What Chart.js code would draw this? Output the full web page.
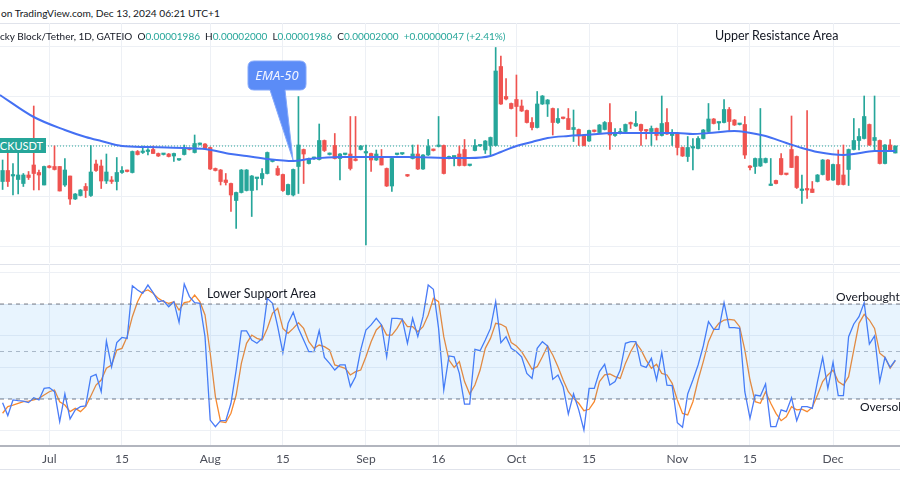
<!DOCTYPE html>
<html>
<head>
<meta charset="utf-8">
<script src="https://cdn.jsdelivr.net/npm/chart.js@4.4.1/dist/chart.umd.min.js"></script>
<style>
  body { margin: 0; width: 900px; height: 500px; overflow: hidden; position: relative; background: #fff;
         font-family: Lato, "Noto Sans", sans-serif; color: #131722; }
  .t { position: absolute; white-space: nowrap; font-size: 10px; line-height: 14px; }
  .g { color: #26a69a; }
  .pane { position: absolute; left: 0; }
  .hl { position: absolute; left: 0; width: 900px; height: 0; border-top: 1px solid #e0e3eb; }
</style>
</head>
<body>

<div class="t" style="left:1px;top:6px;font-size:10.2px"><span style="position:absolute;right:100%">Published&nbsp;</span>on TradingView.com, Dec 13, 2024 06:21 UTC+1</div>
<div class="hl" style="top:23px"></div>

<div class="pane" style="top:23px"><canvas id="price" width="900" height="240"></canvas></div>
<div class="hl" style="top:264px"></div>
<div class="pane" style="top:264px"><canvas id="stoch" width="900" height="211"></canvas></div>
<div class="hl" style="top:469px"></div>

<div class="t" style="left:0;top:29px"><span style="position:absolute;right:100%">Lu</span>cky Block/Tether, 1D, GATEIO&nbsp; O<span class="g">0.00001986</span>&nbsp; H<span class="g">0.00002000</span>&nbsp; L<span class="g">0.00001986</span>&nbsp; C<span class="g">0.00002000</span>&nbsp; <span class="g">+0.00000047 (+2.41%)</span></div>
<div class="t" style="left:715px;top:29px;font-size:12.5px">Upper Resistance Area</div>

<div style="position:absolute;left:0;top:138px;width:46px;height:15px;overflow:hidden;background:#26a69a;color:#fff;
            font-size:11px;line-height:15px;display:flex;justify-content:flex-end;padding-right:3px;box-sizing:border-box">
  <span style="white-space:nowrap">BLOCKUSDT</span></div>

<svg style="position:absolute;left:0;top:0" width="900" height="500">
  <path d="M254 61 H300 Q306 61 306 67 V84 Q306 90 300 90 H285 L293 160 L270 90 H254 Q248 90 248 84 V67 Q248 61 254 61 Z"
        fill="#5b8cf7" stroke="#84a8fb" stroke-width="1"/>
  <text x="277" y="80" text-anchor="middle" font-family="Noto Sans" font-style="italic" font-size="13" fill="#f2f5ff">EMA-50</text>
</svg>

<div class="t" style="left:207px;top:287px;font-size:12.5px">Lower Support Area</div>
<div class="t" style="left:836px;top:290px;font-size:12px">Overbought</div>
<div class="t" style="left:860px;top:400px;font-size:12px">Oversold</div>

<script>
// daily candles, index 0 = Jun 22 2024 ... 172 = Dec 13 2024, prices in 1e-8 USDT
const open = [
  1929,1951,1940,1933,1925,1942,1962,1947,1922,1960, 1959,1959,1922,1940,1894,1901,1919,1901,1964,1960,
  1930,1932,1929,1947,1951,1947,1989,1987,1989,1993, 1985,1983,1984,1980,1972,1983,1995,1987,2003,2004,
  1997,1955,1952,1932,1925,1891,1907,1911,1911,1935, 1935,1945,1969,1955,1943,1903,1902,1959,1993,1965,
  1975,1973,2011,1983,2001,1975,1983,1984,1973,1993, 1986,1985,1972,1979,1955,1920,1983,1984,1942,1975,
  1984,1954,1982,1993,1999,2001,1975,1978,1984,1993, 1961,1991,2000,1992,2001,2001,2159,2099,2085,2093,
  2080,2071,2047,2037,2084,2084,2075,2047,2057,2055, 2033,2033,2022,2010,2031,2027,2033,2047,2021,2025,
  2029,2047,2040,2043,2032,2029,2035,2021,2047,2021, 2025,1997,1979,1996,1995,2015,2029,2054,2046,2047,
  2073,2052,2043,2043,1960,1959,1960,1967,1921,1931, 1975,1944,1993,1979,1911,1914,1914,1929,1943,1972,
  1932,1963,1942,1953,1993,2011,2015,2043,2011,2011, 1965,2002,1986
];
const high = [
  1972,1989,1965,1987,1945,1949,2080,1952,1960,1961, 2000,1959,1975,1940,1905,1913,1925,2001,1972,1972,
  1984,1939,1977,1959,1952,1990,1991,2000,1995,2000, 1986,1985,1985,1986,1974,2002,1996,2022,2006,2005,
  1998,1956,1953,1945,1926,1908,1953,1953,1941,1937, 1955,1988,1973,1960,1944,1924,1954,2099,1994,1976,
  1978,2044,2012,1986,2025,1985,1985,2059,2059,2001, 2002,1986,1992,1993,1956,1976,1984,1985,1943,2002,
  2002,1983,2013,1994,2059,2002,1980,1980,2000,2013, 1962,2013,2002,2011,2018,2197,2180,2135,2086,2142,
  2092,2072,2057,2109,2101,2093,2076,2075,2058,2075, 2072,2034,2023,2032,2032,2043,2049,2085,2035,2035,
  2044,2048,2069,2044,2033,2040,2036,2100,2075,2033, 2026,1998,2019,2015,2019,2033,2085,2055,2048,2093,
  2077,2053,2045,2059,1961,1976,2075,1976,1975,1932, 1985,1945,2060,1980,1942,2071,1929,1943,1973,1973,
  1964,1992,2002,1994,2055,2035,2100,2044,2100,2012, 2003,2013,2000
];
const low = [
  1913,1919,1902,1904,1919,1933,1912,1912,1922,1956, 1952,1910,1919,1883,1893,1900,1897,1899,1949,1915,
  1925,1925,1912,1945,1948,1946,1982,1985,1982,1985, 1979,1982,1978,1969,1971,1982,1992,1986,2002,1994,
  1953,1950,1922,1922,1869,1835,1906,1910,1859,1912, 1922,1944,1968,1941,1909,1902,1900,1905,1925,1964,
  1973,1972,1989,1982,1974,1932,1982,1952,1970,1992, 1802,1949,1971,1962,1919,1909,1982,1983,1939,1974,
  1953,1953,1981,1990,1998,1944,1974,1960,1960,1960, 1960,1990,1999,1985,1982,2000,2083,2092,2074,2019,
  2069,2046,2032,2036,2083,2059,2022,2045,2054,2033, 2009,2001,2000,2009,2028,2026,2032,1993,2019,2024,
  2028,2035,2039,2001,2014,2001,2012,2020,2023,2001, 1982,1979,1969,1952,1994,2014,2028,2044,2032,2046,
  2029,2041,2042,1975,1952,1945,1959,1966,1921,1924, 1942,1942,1957,1915,1885,1895,1907,1928,1942,1931,
  1931,1922,1922,1921,1992,1992,2014,2001,1992,1964, 1964,1989,1986
];
const close = [
  1951,1929,1942,1942,1942,1937,1945,1942,1959,1957, 1953,1910,1952,1894,1904,1912,1911,1948,1951,1930,
  1948,1929,1947,1951,1949,1989,1983,1990,1992,1985, 1980,1984,1979,1985,1973,1995,1993,2005,2005,1995,
  1954,1951,1929,1927,1902,1907,1952,1952,1940,1937, 1945,1987,1972,1942,1911,1923,1953,2002,1984,1975,
  1977,2011,1991,1985,1975,1984,1984,1955,1971,2000, 1989,1972,1984,1962,1920,1975,1984,1985,1940,1984,
  1954,1982,1999,1991,2001,1945,1979,1979,1961,1961, 1962,2001,2001,2010,2017,2150,2084,2094,2075,2079,
  2070,2047,2037,2084,2100,2092,2047,2055,2055,2033, 2037,2020,2001,2031,2029,2042,2047,2022,2024,2029,
  2043,2044,2045,2031,2030,2035,2021,2045,2024,2022, 1997,1980,1997,1998,2015,2032,2054,2045,2047,2073,
  2049,2042,2044,1982,1957,1975,1975,1975,1924,1925, 1943,1943,1957,1917,1912,1912,1907,1942,1972,1932,
  1963,1923,1923,1993,2011,2019,2059,2002,2017,1965, 2002,1990,2000
];

// EMA-50 at these candle indexes
const emaAt  = [-0.5, 6, 12, 16, 19, 23, 28, 35, 39, 44, 47, 51, 56, 59, 65, 72, 78, 87, 90, 94,
                96, 99, 102, 105, 109, 112, 118, 125, 130, 133, 136, 141, 143, 147, 151, 154, 157, 162, 164, 168, 172];
const emaVal = [2102, 2058, 2032, 2018, 2010, 2000, 1998, 1996, 1994, 1984, 1980, 1974, 1970, 1974, 1978, 1978, 1978, 1976, 1976, 1980,
                1988, 2000, 2008, 2016, 2020, 2022, 2026, 2026, 2026, 2024, 2026, 2030, 2028, 2020, 2006, 1996, 1988, 1982, 1984, 1990, 1990];

// stochastic %K and %D, one value per candle
const stochK = [
  17.7,9.5,19.4,19.0,18.7,17.7,20.8,19.4,26.7,27.2, 24.6,5.7,23.2,7.4,13.1,15.2,15.6,34.1,35.6,24.6,
  56.6,40.4,55.6,58.9,58.3,91.6,88.9,86.8,92.0,87.2, 81.5,82.1,78.3,81.5,68.4,92.7,84.7,80.9,80.4,59.4,
  6.7,2.5,6.3,6.3,17.3,38.3,63,63,57.3,55.2, 58.3,83.6,80.4,65.7,49.3,67.8,74.8,64.6,57.3,49.9,
  49.9,63.2,46.3,42.5,38.3,41.5,41.5,27.8,34.1,51, 63.6,66.8,71,66.8,46.7,71,71,70.5,55.2,71,
  59.4,72,92,89.3,64.6,25.7,47.2,46.7,36.2,16.8, 16.8,51.4,50.5,57.3,64.6,81.5,55.6,59.4,52,49.9,
  46.7,36.2,33,52,56.2,53.5,32.4,35.2,27.8,10.5, 23.2,13.1,0.4,26.7,26.7,37.3,41.9,28.8,31,38.3,
  55.2,56.2,56.2,41.1,40,45.7,32,49.3,28.8,28.4, 5.0,2.1,23.2,32,41.5,53.5,68.9,64,64,80.9,
  65.1,65.1,64.6,24.6,7.8,22.5,21.9,29.5,2.5,2.5, 13.1,12,20.8,6.3,15.2,15.2,14.1,31,46.3,26.7,
  43.2,22.1,22.1,59.4,67.4,72,80.9,54.7,59.8,31, 46.3,40,44.6
];
const stochD = [
  11,15.2,16.2,17.3,18.3,18.7,19.4,20.4,22.5,24.6, 25.7,18.3,16.2,12,14.1,12,15.2,21.9,28.8,32,
  39.4,41.5,50.9,52,59.4,72,81.5,87.8,88.9,86.8, 83.6,81.5,80.4,81.5,76.2,80.9,81.5,85.7,81.5,73.1,
  48.9,21.5,5.7,5.1,11,22.5,42.5,55.2,60.4,58.3, 57.3,64.6,74.1,77.3,64.6,61.5,64.6,68.2,64.6,56.2,
  52,54.1,53.1,51,41.5,40.4,39.4,35.2,37.3,38.3, 46.7,56.2,63.6,66.8,60.4,60.4,64.6,70.3,65.7,65.7,
  62.5,65.7,73.1,83.6,81.5,59.4,44.6,40,43.6,31, 23.2,28.8,38.3,52,58.3,67.8,67.2,65.3,55.6,53.5,
  49.9,44.6,38.9,40.4,46.7,53.5,47.8,40.4,32,24.6, 20.4,17.3,12.6,13.5,18.3,31,35.2,35.8,34.1,33,
  42.5,49.9,55.6,51,44.6,39.4,41.9,36.2,35.2,29.9, 19.4,10.9,9.9,18.3,32,43.6,56.2,63.6,67.8,69.9,
  70.3,69.9,65.7,51,32,18.3,17.3,24.6,17.3,10.9, 6.3,8.8,15.2,13.1,13.5,12,14.7,22.5,31,35.2,
  38.3,31,28.8,34.1,51,67.8,73.5,69.9,64.6,48.9, 46.3,39.4,44.2
];

const tickAt   = [9, 23, 40, 54, 70, 84, 99, 113, 130, 144, 160];
const tickText = ['Jul', '15', 'Aug', '15', 'Sep', '16', 'Oct', '15', 'Nov', '15', 'Dec'];
const priceGrid = [1800, 1900, 2000, 2100, 2200];
const stochGrid = [0, 20, 40, 60, 80, 100];
const bandHigh = 80, bandMid = 50, bandLow = 20;

const XMIN = -0.5, XMAX = 172.9;
const UP = '#26a69a', DOWN = '#ef5350', GRID = '#edf0f5';

Chart.defaults.font.family = 'Lato';

const idx = open.map((_, i) => i);
const candleColor = idx.map(i => close[i] >= open[i] ? UP : DOWN);
const last = close[close.length - 1];

const hideY = s => { s.width = 0; };

new Chart(document.getElementById('price'), {
    type: 'bar',
    data: {
        datasets: [
            {
                type: 'line', order: 0,
                data: emaAt.map((x, i) => ({x: x, y: emaVal[i]})),
                borderColor: '#4470f3', borderWidth: 2, pointRadius: 0,
                cubicInterpolationMode: 'monotone'
            },
            {
                type: 'line', order: 3,
                data: [{x: XMIN, y: last}, {x: XMAX, y: last}],
                borderColor: UP, borderWidth: 1, borderDash: [1, 2], pointRadius: 0
            },
            {
                order: 2, grouped: false, barThickness: 1,
                data: idx.map(i => ({x: i, y: [low[i], high[i]]})),
                backgroundColor: candleColor
            },
            {
                order: 1, grouped: false, barThickness: 3.6, minBarLength: 1.5,
                data: idx.map(i => ({x: i, y: [open[i], close[i]]})),
                backgroundColor: candleColor
            }
        ]
    },
    options: {
        responsive: false, animation: false, events: [],
        layout: {padding: 0},
        plugins: {legend: {display: false}, tooltip: {enabled: false}},
        scales: {
            x: {
                type: 'linear', min: XMIN, max: XMAX, offset: false,
                grid: {color: GRID, offset: false, drawTicks: false},
                border: {display: false}, ticks: {display: false},
                afterBuildTicks: s => { s.ticks = tickAt.map(v => ({value: v})); },
                afterFit: s => { s.height = 0; }
            },
            y: {
                min: 1766, max: 2246,
                grid: {color: GRID, drawTicks: false},
                border: {display: false}, ticks: {display: false},
                afterBuildTicks: s => { s.ticks = priceGrid.map(v => ({value: v})); },
                afterFit: hideY
            }
        }
    }
});

function level(v, color, fill) {
    return {
        data: [{x: XMIN, y: v}, {x: XMAX, y: v}],
        borderColor: color, borderWidth: 1, borderDash: [4, 4], pointRadius: 0,
        fill: fill ? '+1' : false, backgroundColor: 'rgba(33,150,243,0.1)'
    };
}

new Chart(document.getElementById('stoch'), {
    type: 'line',
    data: {
        datasets: [
            level(bandHigh, '#787b86', true),
            level(bandLow, '#787b86', false),
            level(bandMid, '#b8bbc3', false),
            {
                data: idx.map(i => ({x: i, y: stochK[i]})),
                borderColor: '#4a7bf7', borderWidth: 1.3, pointRadius: 0, fill: false
            },
            {
                data: idx.map(i => ({x: i, y: stochD[i]})),
                borderColor: '#f7892f', borderWidth: 1.3, pointRadius: 0, fill: false
            }
        ]
    },
    options: {
        responsive: false, animation: false, events: [],
        layout: {padding: 0},
        plugins: {legend: {display: false}, tooltip: {enabled: false}},
        scales: {
            x: {
                type: 'linear', min: XMIN, max: XMAX,
                grid: {color: GRID, drawTicks: false},
                border: {display: true, color: '#b2b5be', width: 2},
                ticks: {
                    color: '#4c4f5a', font: {size: 12}, padding: 6,
                    autoSkip: false, maxRotation: 0,
                    callback: (v, i) => tickText[i]
                },
                afterBuildTicks: s => { s.ticks = tickAt.map(v => ({value: v})); },
                afterFit: s => { s.height = 29; }
            },
            y: {
                min: -9.7, max: 105.3,
                grid: {color: GRID, drawTicks: false},
                border: {display: false}, ticks: {display: false},
                afterBuildTicks: s => { s.ticks = stochGrid.map(v => ({value: v})); },
                afterFit: hideY
            }
        }
    }
});
</script>
</body>
</html>
